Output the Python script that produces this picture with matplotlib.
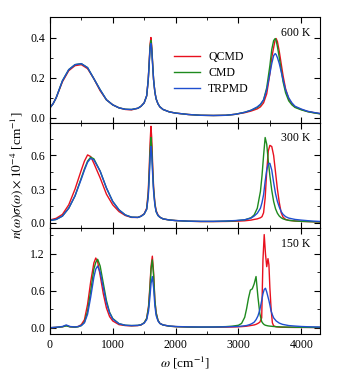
import matplotlib
matplotlib.use("Agg")
import matplotlib.pyplot as plt
from matplotlib.ticker import MultipleLocator

plt.rcParams['font.family'] = 'serif'
plt.rcParams['font.serif'] = ['Liberation Serif', 'DejaVu Serif']
plt.rcParams['mathtext.fontset'] = 'stix'
plt.rcParams['font.size'] = 8.5

series_labels = ["QCMD", "CMD", "TRPMD"]
colors = ["#e8101e", "#1e8a1e", "#1f4fcf"]
temp_labels = ["600 K", "300 K", "150 K"]

# ---------- 600 K ----------
w600 = [0, 50, 100, 200, 300, 400, 500, 600, 700, 800,
        900, 1000, 1100, 1200, 1300, 1400, 1450, 1500, 1540, 1565,
        1580, 1595, 1608, 1620, 1635, 1650, 1670, 1690, 1720, 1750,
        1800, 1900, 2000, 2200, 2400, 2600, 2800, 2950, 3100, 3200,
        3300, 3350, 3400, 3450, 3500, 3530, 3560, 3585, 3600, 3620,
        3650, 3680, 3710, 3750, 3800, 3850, 3900, 4000, 4100, 4200,
        4300]
q600 = [.05, .07, .10, .18, .235, .26, .265, .245, .195, .135,
        .09, .065, .05, .042, .04, .048, .058, .075, .11, .19,
        .28, .37, .40, .36, .27, .19, .13, .095, .07, .055,
        .042, .03, .024, .017, .013, .012, .013, .018, .026, .034,
        .045, .055, .075, .12, .22, .30, .35, .39, .395, .38,
        .33, .27, .21, .145, .095, .07, .055, .042, .032, .026,
        .021]
c600 = [.05, .07, .10, .185, .24, .265, .27, .25, .195, .14,
        .09, .065, .05, .043, .042, .048, .058, .075, .11, .19,
        .27, .36, .385, .35, .27, .19, .13, .095, .07, .055,
        .042, .03, .024, .017, .013, .012, .013, .018, .028, .038,
        .052, .065, .09, .15, .26, .34, .385, .395, .385, .355,
        .30, .24, .18, .125, .085, .065, .052, .04, .031, .025,
        .02]
t600 = [.05, .07, .10, .185, .24, .265, .27, .25, .195, .14,
        .09, .065, .05, .043, .042, .048, .058, .075, .11, .19,
        .27, .35, .37, .34, .26, .19, .13, .095, .07, .055,
        .042, .03, .024, .017, .013, .012, .013, .018, .028, .038,
        .055, .068, .09, .14, .22, .27, .31, .32, .315, .30,
        .27, .23, .19, .14, .10, .075, .058, .044, .033, .027,
        .022]

# ---------- 300 K ----------
w300 = [0, 100, 200, 300, 400, 500, 550, 600, 650, 700,
        800, 900, 1000, 1100, 1200, 1300, 1400, 1450, 1500, 1540,
        1565, 1580, 1595, 1608, 1620, 1635, 1650, 1670, 1690, 1720,
        1750, 1800, 1900, 2000, 2200, 2400, 2600, 2800, 2950, 3100,
        3200, 3250, 3300, 3350, 3375, 3400, 3425, 3450, 3475, 3500,
        3530, 3560, 3590, 3620, 3650, 3680, 3710, 3750, 3800, 3900,
        4000, 4100, 4200, 4300]
q300 = [.025, .04, .075, .16, .30, .47, .55, .605, .59, .53,
        .40, .255, .16, .10, .065, .048, .048, .06, .08, .13,
        .28, .48, .72, .86, .76, .52, .32, .18, .11, .07,
        .05, .035, .025, .02, .014, .011, .011, .012, .014, .018,
        .024, .03, .035, .045, .055, .09, .22, .46, .64, .69,
        .68, .60, .45, .30, .18, .09, .05, .03, .022, .016,
        .013, .011, .009, .008]
c300 = [.02, .03, .06, .13, .24, .40, .48, .55, .585, .57,
        .46, .31, .19, .115, .07, .05, .048, .058, .078, .12,
        .25, .43, .64, .76, .68, .47, .30, .17, .10, .065,
        .05, .035, .025, .02, .014, .012, .012, .014, .018, .026,
        .045, .07, .13, .28, .42, .60, .76, .70, .55, .42,
        .29, .19, .125, .085, .06, .045, .035, .028, .022, .016,
        .013, .011, .009, .008]
t300 = [.02, .03, .06, .13, .24, .39, .47, .54, .575, .56,
        .46, .31, .19, .115, .07, .05, .048, .058, .078, .12,
        .23, .39, .58, .68, .61, .43, .28, .16, .10, .065,
        .05, .035, .025, .02, .015, .013, .013, .016, .02, .027,
        .042, .06, .085, .13, .18, .25, .37, .47, .525, .53,
        .47, .36, .26, .19, .14, .10, .075, .055, .042, .03,
        .024, .019, .015, .012]

# ---------- 150 K ----------
w150 = [0, 100, 200, 260, 320, 400, 450, 500, 550, 600,
        650, 700, 730, 760, 800, 850, 900, 950, 1000, 1100,
        1200, 1300, 1400, 1450, 1500, 1540, 1570, 1590, 1610, 1630,
        1650, 1670, 1690, 1720, 1750, 1800, 1900, 2000, 2200, 2400,
        2600, 2800, 2900, 3000, 3050, 3100, 3130, 3160, 3190, 3220,
        3250, 3280, 3310, 3340, 3370, 3390, 3410, 3430, 3450, 3470,
        3485, 3500, 3520, 3540, 3560, 3600, 3650, 3700, 3800, 3900,
        4000, 4100, 4200, 4300]
q150 = [0, .005, .015, .035, .015, .01, .02, .05, .13, .38,
        .75, 1.05, 1.13, 1.07, .85, .55, .32, .18, .11, .05,
        .035, .03, .035, .045, .08, .15, .35, .65, 1.0, 1.16,
        .9, .45, .25, .12, .07, .045, .025, .018, .01, .008,
        .008, .01, .012, .015, .018, .022, .025, .03, .035, .04,
        .045, .055, .07, .09, .16, 1.1, 1.51, 1.2, .99, 1.12,
        1.02, .65, .3, .08, .03, .015, .01, .008, .006, .005,
        .005, .005, .004, .004]
c150 = [0, .005, .015, .03, .015, .01, .015, .035, .09, .27,
        .6, .95, 1.06, 1.11, 1.0, .72, .44, .25, .15, .065,
        .04, .035, .038, .048, .08, .15, .33, .6, .95, 1.1,
        .85, .45, .24, .12, .07, .045, .025, .018, .012, .01,
        .012, .018, .025, .04, .07, .17, .31, .48, .61, .63,
        .71, .83, .5, .23, .1, .07, .05, .04, .035, .03,
        .028, .026, .024, .022, .02, .017, .014, .012, .01, .008,
        .007, .006, .005, .005]
t150 = [0, .008, .02, .045, .02, .012, .02, .035, .08, .22,
        .5, .82, .95, 1.0, .9, .65, .4, .24, .14, .065,
        .04, .035, .038, .048, .075, .13, .27, .48, .72, .83,
        .65, .36, .2, .11, .07, .045, .028, .02, .014, .012,
        .012, .015, .018, .022, .026, .032, .036, .045, .055, .07,
        .09, .13, .19, .29, .44, .55, .62, .64, .58, .50,
        .44, .37, .27, .21, .16, .11, .075, .055, .035, .027,
        .02, .016, .013, .011]

panels = [
    (w600, [q600, c600, t600], (-0.025, 0.5), 0.2, 0.1),
    (w300, [q300, c300, t300], (-0.05, 0.89), 0.3, 0.15),
    (w150, [q150, c150, t150], (-0.1, 1.61), 0.6, 0.3),
]

fig = plt.figure(figsize=(3.37, 3.71), dpi=100)
gs = fig.add_gridspec(3, 1, left=0.148, right=0.950, bottom=0.100, top=0.953, hspace=0)
axes = [fig.add_subplot(gs[i]) for i in range(3)]

for i, (ax, (w, ys, ylim, maj, mnr)) in enumerate(zip(axes, panels)):
    for y, c, lab in zip(ys, colors, series_labels):
        ax.plot(w, y, color=c, lw=1.0, label=lab)
    ax.set_xlim(0, 4300)
    ax.set_ylim(*ylim)
    ax.xaxis.set_major_locator(MultipleLocator(1000))
    ax.xaxis.set_minor_locator(MultipleLocator(500))
    ax.yaxis.set_major_locator(MultipleLocator(maj))
    ax.yaxis.set_minor_locator(MultipleLocator(mnr))
    ax.tick_params(which='both', direction='in', top=True, right=True)
    ax.tick_params(which='major', length=4, width=0.8)
    ax.tick_params(which='minor', length=2.5, width=0.6)
    ax.yaxis.set_major_formatter(matplotlib.ticker.FormatStrFormatter('%.1f'))
    ax.text(0.965, 0.91, temp_labels[i], transform=ax.transAxes, ha='right', va='top', fontsize=8.5)
    if i < 2:
        ax.tick_params(labelbottom=False)

axes[0].legend(loc='center left', bbox_to_anchor=(0.42, 0.47), frameon=False,
               handlelength=2.2, handletextpad=0.7, labelspacing=0.35, fontsize=8.5)
axes[1].set_ylabel(r'$n(\omega)\sigma(\omega)\times 10^{-4}$ [cm$^{-1}$]', labelpad=4, fontsize=9.5)
axes[2].set_xlabel(r'$\omega$ [cm$^{-1}$]', labelpad=3, fontsize=9.5)

fig.savefig("out.png", dpi=100)
